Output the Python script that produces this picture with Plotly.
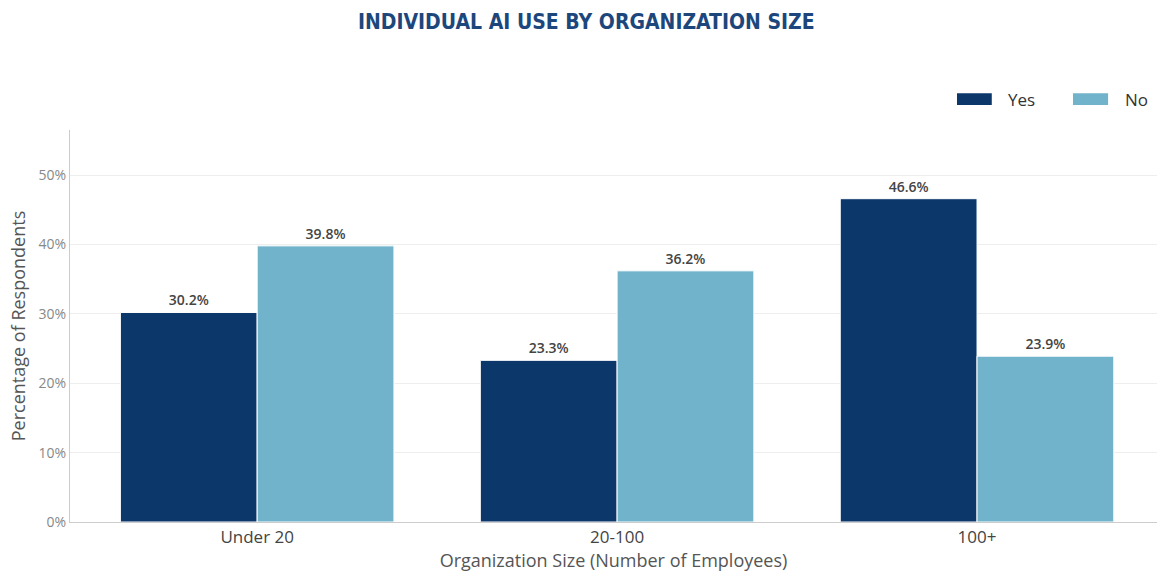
import plotly.graph_objects as go

categories = ["Under 20", "20-100", "100+"]
yes_values = [30.2, 23.3, 46.6]
no_values = [39.8, 36.2, 23.9]
tick_vals = [0, 10, 20, 30, 40, 50]
tick_text = ["0%", "10%", "20%", "30%", "40%", "50%"]

YES_C = "#0b376a"
NO_C = "#70b3cb"

fig = go.Figure()
for name, vals, col in [("Yes", yes_values, YES_C), ("No", no_values, NO_C)]:
    fig.add_trace(go.Bar(
        x=categories, y=vals, name=name,
        marker=dict(color=col, line=dict(color="white", width=1)),
        text=[f"{v:.1f}%" for v in vals], textposition="outside",
        textfont=dict(family="Open Sans", size=14, color="#444444", weight=600),
        cliponaxis=False, showlegend=False,
    ))

# manual legend with wide swatches
fig.add_shape(type="rect", xref="paper", yref="paper", x0=0.816, x1=0.848, y0=1.064, y1=1.094,
              fillcolor=YES_C, line=dict(width=0))
fig.add_annotation(xref="paper", yref="paper", x=0.861, y=1.079, text="Yes", showarrow=False,
                   xanchor="left", yanchor="middle", font=dict(family="Open Sans", size=17, color="#333333"))
fig.add_shape(type="rect", xref="paper", yref="paper", x0=0.9227, x1=0.955, y0=1.064, y1=1.094,
              fillcolor=NO_C, line=dict(width=0))
fig.add_annotation(xref="paper", yref="paper", x=0.9687, y=1.079, text="No", showarrow=False,
                   xanchor="left", yanchor="middle", font=dict(family="Open Sans", size=17, color="#333333"))

fig.update_layout(
    width=1161, height=575,
    margin=dict(l=70, r=4, t=130, b=53),
    paper_bgcolor="white", plot_bgcolor="white",
    barmode="group", bargap=0.24, bargroupgap=0,
    title=dict(text="INDIVIDUAL AI USE BY ORGANIZATION SIZE", x=0.505, xanchor="center",
               y=0.963, yanchor="middle",
               font=dict(family="DejaVu Sans Condensed, sans-serif",
                         size=21, color="#1d477c", weight=700)),
    xaxis=dict(range=[-0.52, 2.5], showline=True, linecolor="#cccccc", linewidth=1,
               tickfont=dict(family="Open Sans", size=17, color="#444444"),
               title=dict(text="Organization Size (Number of Employees)", standoff=2,
                          font=dict(family="Open Sans", size=18, color="#555555")),
               ticks=""),
    yaxis=dict(range=[0, 56.5], tickvals=tick_vals, ticktext=tick_text,
               showline=True, linecolor="#cccccc", linewidth=1,
               gridcolor="#eeeeee", zeroline=False,
               tickfont=dict(family="Open Sans", size=14, color="#888888"),
               title=dict(text="Percentage of Respondents", standoff=8,
                          font=dict(family="Open Sans", size=18, color="#555555"))),
)

fig.write_html("out.html")
